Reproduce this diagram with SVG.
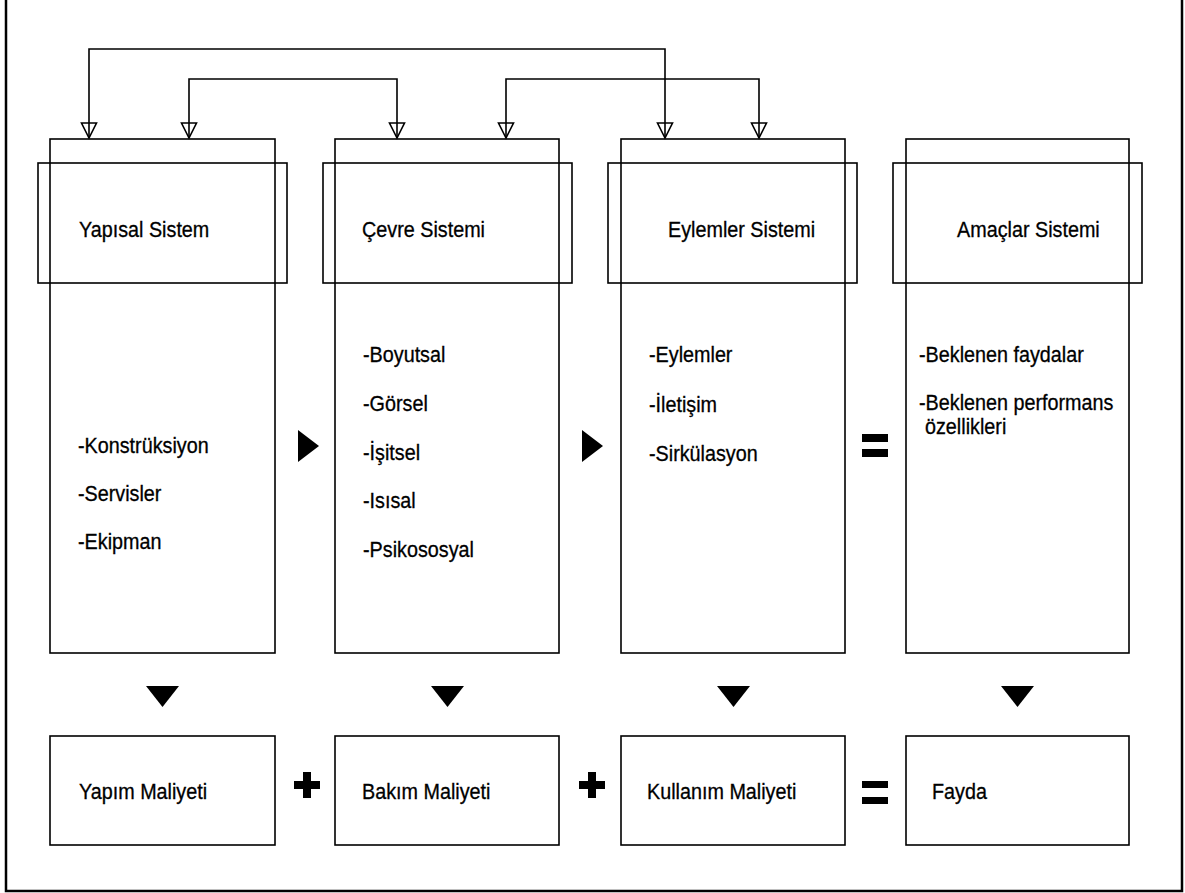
<svg xmlns="http://www.w3.org/2000/svg" width="1185" height="893" viewBox="0 0 1185 893">
<style>
.frame{fill:none;stroke:#000;stroke-width:2.5}
.box{fill:none;stroke:#000;stroke-width:1.6}
.conn{fill:none;stroke:#000;stroke-width:1.6}
.ah{fill:none;stroke:#000;stroke-width:1.6;stroke-linejoin:miter}
.sym{fill:#000;stroke:none}
text{font-family:"Liberation Sans",Arial,sans-serif;font-size:21.5px;fill:#000;stroke:#000;stroke-width:0.3;transform-box:fill-box;transform-origin:0 100%;transform:scaleX(0.92)}
</style>
<rect x="0" y="0" width="1185" height="893" fill="#fff"/>
<path class="frame" d="M6,0 V891 H1182 V0"/>

<g id="connectors">
  <path class="conn" d="M89,138 V49 H665 V138"/>
  <path class="conn" d="M189,138 V79 H397 V138"/>
  <path class="conn" d="M506,138 V79 H759 V138"/>
  <path class="ah" d="M81.5,123 H96.5 L89,138 Z"/>
  <path class="ah" d="M181.5,123 H196.5 L189,138 Z"/>
  <path class="ah" d="M389.5,123 H404.5 L397,138 Z"/>
  <path class="ah" d="M498.5,123 H513.5 L506,138 Z"/>
  <path class="ah" d="M657.5,123 H672.5 L665,138 Z"/>
  <path class="ah" d="M751.5,123 H766.5 L759,138 Z"/>
  <path class="sym" d="M298,430 L319,446 L298,462 Z"/>
  <path class="sym" d="M582,430 L603,446 L582,462 Z"/>
  <rect class="sym" x="862" y="434" width="26" height="8"/>
  <rect class="sym" x="862" y="449" width="26" height="8"/>
  <path class="sym" d="M146,686 H179 L162.5,707 Z"/>
  <path class="sym" d="M431,686 H464 L447.5,707 Z"/>
  <path class="sym" d="M717,686 H750 L733.5,707 Z"/>
  <path class="sym" d="M1001,686 H1034 L1017.5,707 Z"/>
  <path class="sym" d="M303,772 h8 v9 h9 v8 h-9 v9 h-8 v-9 h-9 v-8 h9 Z"/>
  <path class="sym" d="M588,772 h8 v9 h9 v8 h-9 v9 h-8 v-9 h-9 v-8 h9 Z"/>
  <rect class="sym" x="862" y="781" width="26" height="7"/>
  <rect class="sym" x="862" y="797" width="26" height="7"/>
</g>

<g id="yapisal">
  <rect class="box" x="50" y="139" width="225" height="514"/>
  <rect class="box" x="38" y="163" width="249" height="120"/>
  <text x="79" y="237">Yapısal Sistem</text>
  <text x="78" y="453">-Konstrüksiyon</text>
  <text x="78" y="501">-Servisler</text>
  <text x="78" y="549">-Ekipman</text>
</g>
<g id="cevre">
  <rect class="box" x="335" y="139" width="224" height="514"/>
  <rect class="box" x="323" y="163" width="249" height="120"/>
  <text x="362" y="237">Çevre Sistemi</text>
  <text x="363" y="362">-Boyutsal</text>
  <text x="363" y="411">-Görsel</text>
  <text x="363" y="460">-İşitsel</text>
  <text x="363" y="508">-Isısal</text>
  <text x="363" y="557">-Psikososyal</text>
</g>
<g id="eylemler">
  <rect class="box" x="621" y="139" width="224" height="514"/>
  <rect class="box" x="608" y="163" width="249" height="120"/>
  <text x="668" y="237">Eylemler Sistemi</text>
  <text x="649" y="362">-Eylemler</text>
  <text x="649" y="412">-İletişim</text>
  <text x="649" y="461">-Sirkülasyon</text>
</g>
<g id="amaclar">
  <rect class="box" x="906" y="139" width="223" height="514"/>
  <rect class="box" x="893" y="163" width="249" height="120"/>
  <text x="957" y="237">Amaçlar Sistemi</text>
  <text x="919" y="362">-Beklenen faydalar</text>
  <text x="919" y="410">-Beklenen performans</text>
  <text x="925" y="434">özellikleri</text>
</g>
<g id="yapim">
  <rect class="box" x="50" y="736" width="225" height="109"/>
  <text x="79" y="799">Yapım Maliyeti</text>
</g>
<g id="bakim">
  <rect class="box" x="335" y="736" width="224" height="109"/>
  <text x="362" y="799">Bakım Maliyeti</text>
</g>
<g id="kullanim">
  <rect class="box" x="621" y="736" width="224" height="109"/>
  <text x="647" y="799">Kullanım Maliyeti</text>
</g>
<g id="fayda">
  <rect class="box" x="906" y="736" width="223" height="109"/>
  <text x="932" y="799">Fayda</text>
</g>
</svg>
